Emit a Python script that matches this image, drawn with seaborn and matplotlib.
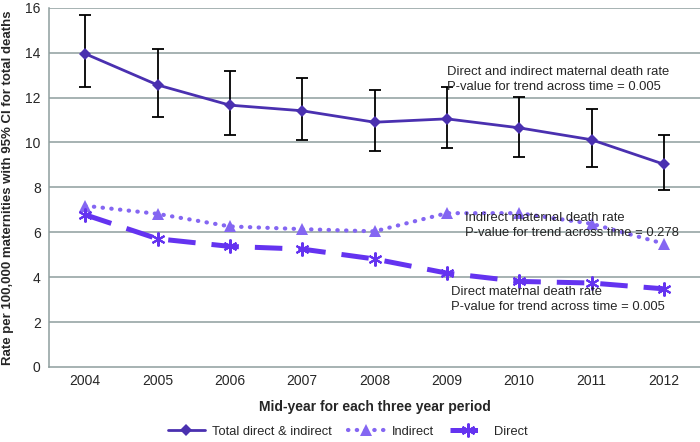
import numpy as np
import pandas as pd
import matplotlib
matplotlib.use("Agg")
import matplotlib.pyplot as plt
import seaborn as sns

years = ["2004", "2005", "2006", "2007", "2008", "2009", "2010", "2011", "2012"]
total = [13.95, 12.56, 11.66, 11.41, 10.90, 11.05, 10.65, 10.12, 9.03]
total_upper = [15.66, 14.17, 13.19, 12.89, 12.34, 12.46, 12.04, 11.48, 10.31]
total_lower = [12.46, 11.15, 10.34, 10.10, 9.61, 9.76, 9.37, 8.90, 7.86]
indirect = [7.18, 6.82, 6.26, 6.14, 6.04, 6.85, 6.85, 6.38, 5.49]
direct = [6.78, 5.71, 5.37, 5.25, 4.81, 4.18, 3.81, 3.74, 3.48]
yticks = [0, 2, 4, 6, 8, 10, 12, 14, 16]

sns.set_style("white")
plt.rcParams['font.family'] = ['Liberation Sans', 'DejaVu Sans']

c_total = "#4A30B0"
c_ind = "#8466F2"
c_dir = "#6433F0"
grid_c = "#8E9E9E"

fig = plt.figure(figsize=(7, 4.42), dpi=100)
ax = fig.add_axes([0.07, 0.1697, 0.93, 0.8129])

x = np.arange(len(years))
df = pd.DataFrame({"x": x, "total": total, "indirect": indirect, "direct": direct})

for yv in yticks[1:]:
    ax.axhline(yv, color=grid_c, lw=1.1, zorder=0)

sns.lineplot(data=df, x="x", y="indirect", ax=ax, color=c_ind, lw=3.0,
             linestyle=(0, (0.1, 2.0)), dash_capstyle="round", solid_capstyle="round",
             marker="^", markersize=9, markeredgewidth=0, label="Indirect", zorder=3)
sns.lineplot(data=df, x="x", y="direct", ax=ax, color=c_dir, lw=3.6,
             linestyle=(0, (5.5, 3.2)), marker=(6, 2, 0), markersize=10,
             markeredgewidth=1.5, markeredgecolor=c_dir, label="Direct", zorder=3)

err = [np.array(total) - np.array(total_lower), np.array(total_upper) - np.array(total)]
ax.errorbar(x, total, yerr=err, fmt="none", ecolor="black", elinewidth=1.3,
            capsize=4.5, capthick=1.3, zorder=4)
sns.lineplot(data=df, x="x", y="total", ax=ax, color=c_total, lw=2.0,
             marker="D", markersize=6, markeredgewidth=0,
             label="Total direct & indirect", zorder=5)

ax.set_xlim(-0.5, 8.5)
ax.set_ylim(0, 16)
ax.set_xticks(x)
ax.set_xticklabels(years)
ax.set_yticks(yticks)
ax.tick_params(axis="both", labelsize=10, length=0, pad=6)
ax.tick_params(axis="x", pad=5)
for s in ["top", "right"]:
    ax.spines[s].set_visible(False)
ax.spines["left"].set_color(grid_c)
ax.spines["bottom"].set_color(grid_c)
ax.spines["left"].set_linewidth(1.1)
ax.spines["bottom"].set_linewidth(1.1)

ax.set_xlabel("Mid-year for each three year period", fontsize=10, fontweight="bold", labelpad=9)
ax.set_ylabel("Rate per 100,000 maternities with 95% CI for total deaths", fontsize=9.5,
              fontweight="bold", labelpad=8)

ax.text(5.0, 12.8, "Direct and indirect maternal death rate\nP-value for trend across time = 0.005",
        fontsize=9.4, va="center", ha="left", linespacing=1.25, zorder=6)
ax.text(5.25, 6.3, "Indirect maternal death rate\nP-value for trend across time = 0.278",
        fontsize=9.4, va="center", ha="left", linespacing=1.25, zorder=6)
ax.text(5.06, 3.0, "Direct maternal death rate\nP-value for trend across time = 0.005",
        fontsize=9.4, va="center", ha="left", linespacing=1.25, zorder=6)

handles, labels = ax.get_legend_handles_labels()
order = [labels.index("Total direct & indirect"), labels.index("Indirect"), labels.index("Direct")]
ax.legend([handles[i] for i in order], [labels[i] for i in order],
          loc="center", bbox_to_anchor=(0.459, -0.18), ncol=3, frameon=False,
          fontsize=9.3, handlelength=2.9, columnspacing=1.2, handletextpad=0.55)

fig.savefig("out.png", dpi=100)
